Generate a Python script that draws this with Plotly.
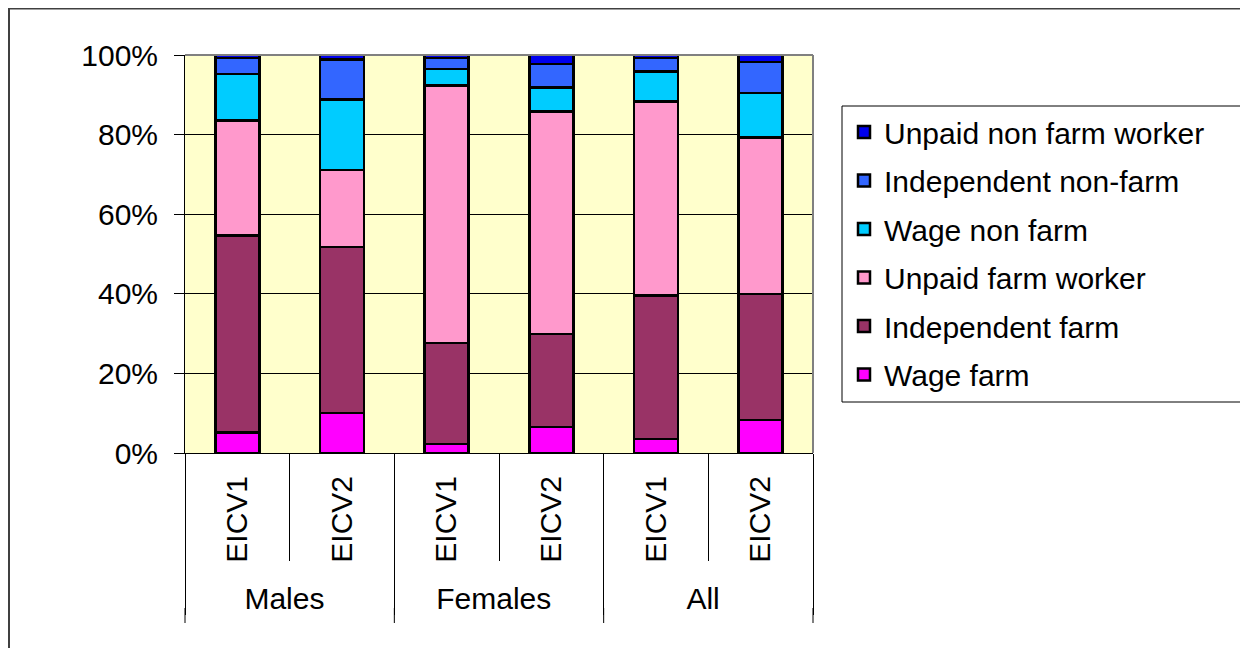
import plotly.graph_objects as go

groups = ["Males", "Males", "Females", "Females", "All", "All"]
surveys = ["EICV1", "EICV2", "EICV1", "EICV2", "EICV1", "EICV2"]

series_names = ["Wage farm", "Independent farm", "Unpaid farm worker",
                "Wage non farm", "Independent non-farm", "Unpaid non farm worker"]
wage_farm = [5.2, 10.0, 2.3, 6.5, 3.5, 8.3]
independent_farm = [49.5, 41.8, 25.4, 23.4, 36.1, 31.7]
unpaid_farm = [28.8, 19.3, 64.6, 55.9, 48.7, 39.3]
wage_non_farm = [11.7, 17.7, 4.2, 6.0, 7.5, 11.2]
independent_non_farm = [4.1, 10.1, 2.8, 5.9, 3.5, 7.7]
unpaid_non_farm = [0.7, 1.1, 0.7, 2.3, 0.7, 1.8]
colors = ["#FF00FF", "#993366", "#FF99CC", "#00CCFF", "#3366FF", "#0000EE"]

y_ticks = [0, 20, 40, 60, 80, 100]
y_ticklabels = ["0%", "20%", "40%", "60%", "80%", "100%"]

values = [wage_farm, independent_farm, unpaid_farm,
          wage_non_farm, independent_non_farm, unpaid_non_farm]

FONT = "Arial, Liberation Sans, sans-serif"

# figure is placed by the page 8px from the top-left corner
W, H = 1240, 640
L, T = 177, 47
PW, PH = 628, 398
R = W - L - PW
B = H - T - PH


def px(xf):
    return (xf - L) / PW


def py(yf):
    return (T + PH - yf) / PH


fig = go.Figure()
n = len(series_names)
for i, (name, vals, col) in enumerate(zip(series_names, values, colors)):
    fig.add_trace(go.Bar(
        x=[groups, surveys], y=vals, name=name,
        marker=dict(color=col, line=dict(color="black", width=2.5)),
        width=0.42, legendgroup=f"g{i}", legendrank=n - i,
    ))

fig.update_layout(
    barmode="stack",
    width=W, height=H,
    margin=dict(l=L, r=R, t=T, b=B),
    paper_bgcolor="white",
    plot_bgcolor="#FFFFCC",
    font=dict(family=FONT, size=30, color="black"),
    showlegend=True,
    legend=dict(
        x=px(836), y=py(98), xanchor="left", yanchor="top",
        traceorder="grouped", tracegroupgap=6.5,
        borderwidth=0, bgcolor="rgba(0,0,0,0)",
        font=dict(family=FONT, size=30, color="black"),
    ),
    xaxis=dict(
        type="multicategory",
        tickangle=-90,
        tickfont=dict(family=FONT, size=30, color="black"),
        showline=True, linecolor="black", linewidth=1,
        ticks="outside", ticklen=107, tickcolor="black", tickwidth=1,
        tickson="boundaries",
        ticklabelstandoff=10,
        showdividers=True, dividercolor="black", dividerwidth=1,
        showgrid=False,
    ),
    yaxis=dict(
        range=[0, 100],
        tickvals=y_ticks, ticktext=y_ticklabels,
        tickfont=dict(family=FONT, size=30, color="black"),
        showgrid=True, gridcolor="black", gridwidth=1,
        showline=True, linecolor="black", linewidth=1,
        ticks="outside", ticklen=10, tickcolor="black",
        ticklabelstandoff=10,
        zeroline=False,
    ),
)

# plot area top/right border (gray)
fig.add_shape(type="line", xref="paper", yref="paper", x0=0, x1=1, y0=1, y1=1,
              line=dict(color="#808080", width=2))
fig.add_shape(type="line", xref="paper", yref="paper", x0=1, x1=1, y0=0, y1=1,
              line=dict(color="#808080", width=2))
# extend group dividers down to the reference length
for xb in [0, 1 / 3, 2 / 3, 1]:
    fig.add_shape(type="line", xref="paper", yref="paper",
                  x0=xb, x1=xb, y0=py(600), y1=py(615),
                  line=dict(color="black", width=1))
# legend box
fig.add_shape(type="rect", xref="paper", yref="paper",
              x0=px(834), x1=px(1234), y0=py(394), y1=py(98),
              line=dict(color="black", width=1), layer="below")
# outer chart frame (top and left visible)
fig.add_shape(type="line", xref="paper", yref="paper",
              x0=px(1), x1=px(W), y0=py(0), y1=py(0),
              line=dict(color="#404040", width=3))
fig.add_shape(type="line", xref="paper", yref="paper",
              x0=px(0.5), x1=px(0.5), y0=py(0), y1=py(H),
              line=dict(color="#404040", width=3))

fig.write_html("out.html")
